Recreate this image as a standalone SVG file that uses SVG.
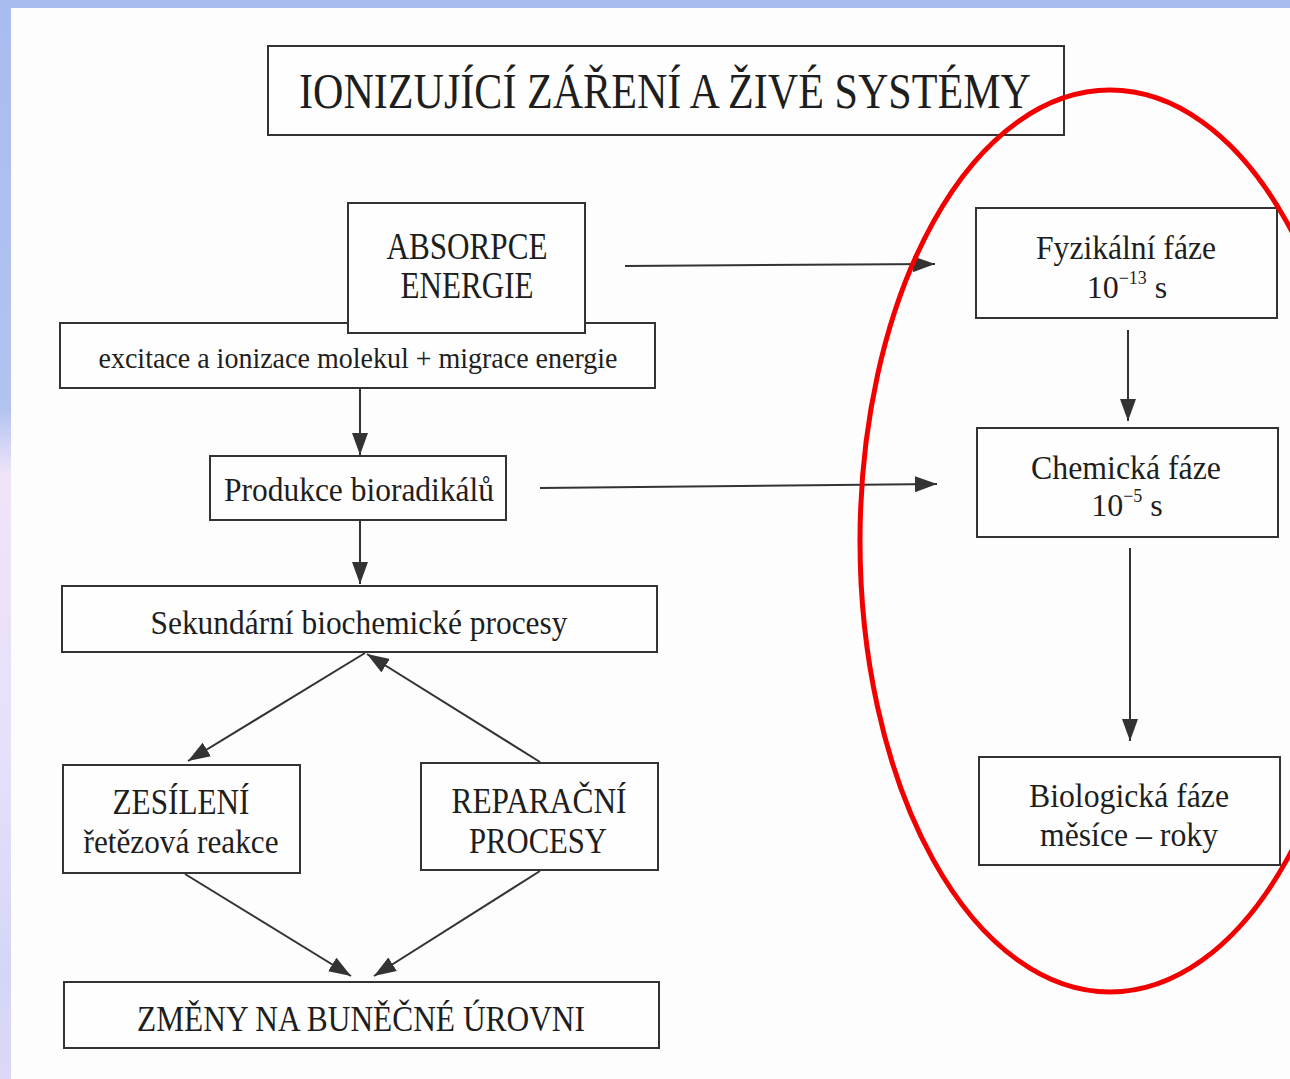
<svg xmlns="http://www.w3.org/2000/svg" width="1290" height="1079" viewBox="0 0 1290 1079">
  <defs>
    <linearGradient id="frame" x1="0" y1="0" x2="0" y2="1">
      <stop offset="0" stop-color="#a9bcef"/>
      <stop offset="0.38" stop-color="#b3c3f0"/>
      <stop offset="0.44" stop-color="#f0e4f8"/>
      <stop offset="0.7" stop-color="#e6e0fa"/>
      <stop offset="0.9" stop-color="#d4d6f6"/>
      <stop offset="1" stop-color="#dcd8f6"/>
    </linearGradient>
    <marker id="head" viewBox="0 0 22 16" refX="22" refY="8" markerWidth="22" markerHeight="16" markerUnits="userSpaceOnUse" orient="auto">
      <path d="M0,0 L22,8 L0,16 z" fill="#333"/>
    </marker>
    <style>
      .box { fill: #fefefe; stroke: #333; stroke-width: 2; }
      .t { font-family: "Liberation Serif", "Times New Roman", serif; fill: #1e1e1e; text-anchor: middle; }
      .conn { stroke: #333; stroke-width: 2; fill: none; marker-end: url(#head); }
      .sup { font-size: 18px; }
    </style>
  </defs>

  <!-- slide frame and page -->
  <rect x="0" y="0" width="1290" height="1079" fill="url(#frame)"/>
  <rect x="0" y="0" width="1290" height="9" fill="#a9bcef"/>
  <rect x="11" y="8" width="1279" height="1071" fill="#fdfdfd"/>

  <!-- connectors -->
  <g id="connectors">
    <line class="conn" x1="360" y1="389" x2="360" y2="455"/>
    <line class="conn" x1="360" y1="521" x2="360" y2="584"/>
    <line class="conn" x1="365" y1="653" x2="188" y2="761"/>
    <line class="conn" x1="540" y1="762" x2="367" y2="654"/>
    <line class="conn" x1="185" y1="874" x2="351" y2="976"/>
    <line class="conn" x1="540" y1="871" x2="374" y2="976"/>
    <line class="conn" x1="625" y1="266" x2="935" y2="264"/>
    <line class="conn" x1="540" y1="488" x2="937" y2="484"/>
    <line class="conn" x1="1128" y1="330" x2="1128" y2="421"/>
    <line class="conn" x1="1130" y1="548" x2="1130" y2="741"/>
  </g>

  <g id="title">
    <rect class="box" x="268" y="46" width="796" height="89"/>
    <text class="t" x="665" y="108" font-size="50" textLength="732" lengthAdjust="spacingAndGlyphs">IONIZUJÍCÍ ZÁŘENÍ A ŽIVÉ SYSTÉMY</text>
  </g>

  <g id="excitace">
    <rect class="box" x="60" y="323" width="595" height="65"/>
    <text class="t" x="358" y="368" font-size="30" textLength="519" lengthAdjust="spacingAndGlyphs">excitace a ionizace molekul + migrace energie</text>
  </g>

  <g id="absorpce">
    <rect class="box" x="348" y="203" width="237" height="130"/>
    <text class="t" x="467" y="259" font-size="38" textLength="161" lengthAdjust="spacingAndGlyphs">ABSORPCE</text>
    <text class="t" x="467" y="298" font-size="38" textLength="133" lengthAdjust="spacingAndGlyphs">ENERGIE</text>
  </g>

  <g id="produkce">
    <rect class="box" x="210" y="456" width="296" height="64"/>
    <text class="t" x="359" y="501" font-size="33" textLength="270" lengthAdjust="spacingAndGlyphs">Produkce bioradikálů</text>
  </g>

  <g id="sekundarni">
    <rect class="box" x="62" y="586" width="595" height="66"/>
    <text class="t" x="359" y="634" font-size="33" textLength="417" lengthAdjust="spacingAndGlyphs">Sekundární biochemické procesy</text>
  </g>

  <g id="zesileni">
    <rect class="box" x="63" y="765" width="237" height="108"/>
    <text class="t" x="181" y="814" font-size="35" textLength="137" lengthAdjust="spacingAndGlyphs">ZESÍLENÍ</text>
    <text class="t" x="181" y="853" font-size="33" textLength="195" lengthAdjust="spacingAndGlyphs">řetězová reakce</text>
  </g>

  <g id="reparacni">
    <rect class="box" x="421" y="763" width="237" height="107"/>
    <text class="t" x="539" y="813" font-size="35" textLength="175" lengthAdjust="spacingAndGlyphs">REPARAČNÍ</text>
    <text class="t" x="538" y="853" font-size="35" textLength="138" lengthAdjust="spacingAndGlyphs">PROCESY</text>
  </g>

  <g id="zmeny">
    <rect class="box" x="64" y="982" width="595" height="66"/>
    <text class="t" x="361" y="1031" font-size="35" textLength="448" lengthAdjust="spacingAndGlyphs">ZMĚNY NA BUNĚČNÉ ÚROVNI</text>
  </g>

  <g id="fyzikalni">
    <rect class="box" x="976" y="208" width="301" height="110"/>
    <text class="t" x="1126" y="259" font-size="33" textLength="180" lengthAdjust="spacingAndGlyphs">Fyzikální fáze</text>
    <text class="t" x="1127" y="298" font-size="32">10<tspan class="sup" dy="-14">−13</tspan><tspan dy="14"> s</tspan></text>
  </g>

  <g id="chemicka">
    <rect class="box" x="977" y="428" width="301" height="109"/>
    <text class="t" x="1126" y="479" font-size="33" textLength="190" lengthAdjust="spacingAndGlyphs">Chemická fáze</text>
    <text class="t" x="1127" y="516" font-size="32">10<tspan class="sup" dy="-14">−5</tspan><tspan dy="14"> s</tspan></text>
  </g>

  <g id="biologicka">
    <rect class="box" x="979" y="757" width="301" height="108"/>
    <text class="t" x="1129" y="807" font-size="33" textLength="200" lengthAdjust="spacingAndGlyphs">Biologická fáze</text>
    <text class="t" x="1129" y="846" font-size="33" textLength="178" lengthAdjust="spacingAndGlyphs">měsíce – roky</text>
  </g>

  <!-- red highlight around the three phases -->
  <ellipse id="highlight" cx="1110" cy="541" rx="250" ry="451" fill="none" stroke="#f20000" stroke-width="5"/>
</svg>
